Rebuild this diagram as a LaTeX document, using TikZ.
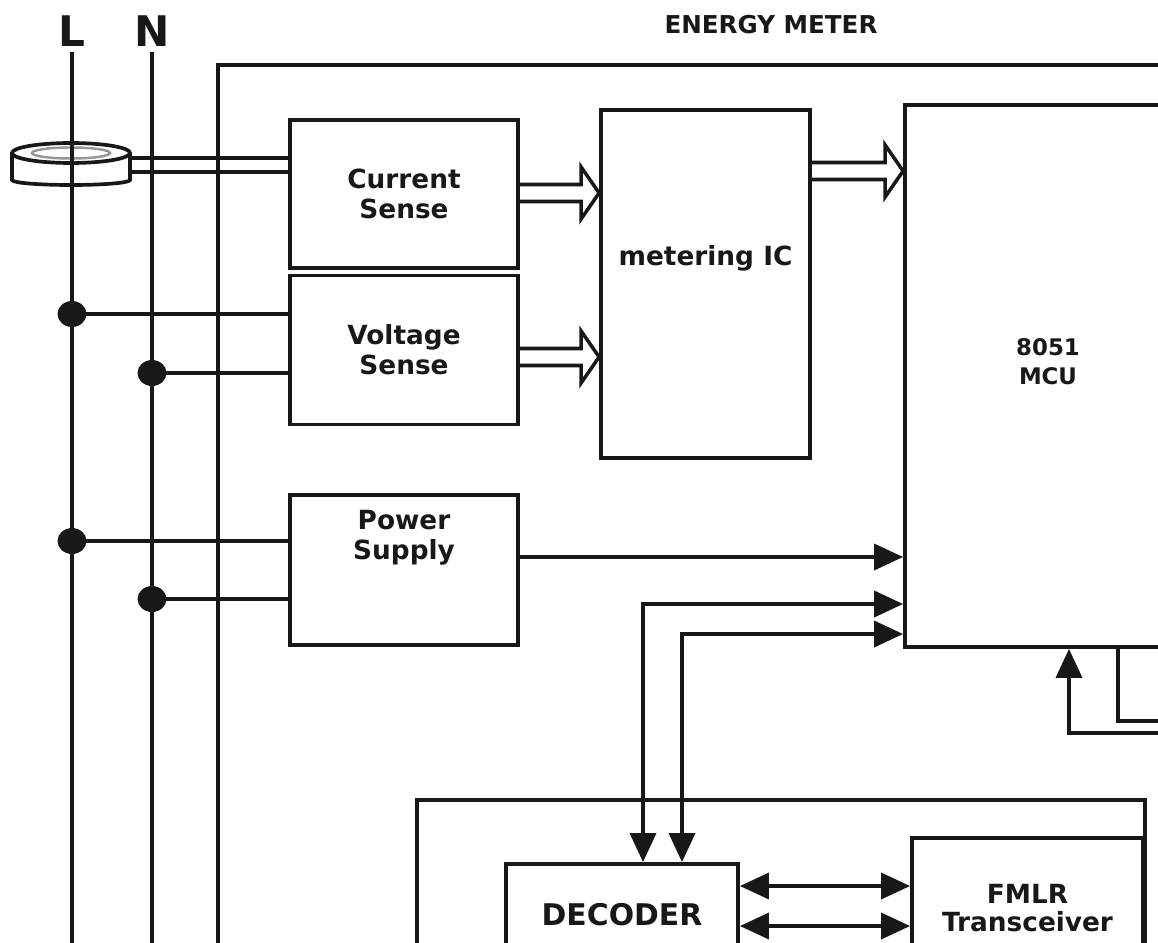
\documentclass[tikz,border=0pt]{standalone}
\usepackage{fontspec}
\setmainfont{DejaVu Sans}
\usepackage{tikz}
\usetikzlibrary{arrows.meta, positioning, calc}
\definecolor{mydark}{RGB}{24,24,24}
\newcommand{\blockfont}{\fontsize{15}{17}\selectfont\bfseries}
\newcommand{\mcufont}{\fontsize{13}{16.5}\selectfont\bfseries}
\tikzset{
  block/.style={rectangle, draw=mydark, line width=2.2pt, inner sep=0pt,
    align=center, font=\blockfont, text=mydark},
  blocklabel/.style={align=center, font=\blockfont, text=mydark},
  wire/.style={line width=2.1pt, color=mydark},
  tri/.style={-{Triangle[length=0.58cm, width=0.52cm]}},
  tritri/.style={{Triangle[length=0.58cm, width=0.52cm]}-{Triangle[length=0.58cm, width=0.52cm]}},
  hollow/.style={line width=2pt, color=mydark, line join=miter,
    to path={($(\tikztostart)+(0,0.17cm)$) -- ($(\tikztotarget)+(-0.36cm,0.17cm)$)
      -- ($(\tikztotarget)+(-0.36cm,0.52cm)$) -- (\tikztotarget)
      -- ($(\tikztotarget)+(-0.36cm,-0.52cm)$) -- ($(\tikztotarget)+(-0.36cm,-0.17cm)$)
      -- ($(\tikztostart)+(0,-0.17cm)$)}},
  joint/.style={fill=mydark}
}

\begin{document}
\begin{tikzpicture}[x=0.02cm, y=-0.02cm]
  \useasboundingbox (0,0) rectangle (1158,942);
  \clip (0,0) rectangle (1158,942);

  % Title and mains labels
  \node[font=\fontsize{14}{14}\selectfont\bfseries, text=mydark] (title) at (771,25) {ENERGY METER};
  \node[font=\fontsize{24}{24}\selectfont\bfseries, text=mydark, inner sep=1pt] (L) at (72,31) {L};
  \node[font=\fontsize{24}{24}\selectfont\bfseries, text=mydark, inner sep=1pt] (N) at (152,31) {N};

  % Blocks
  \node[block, minimum width=4.56cm, minimum height=2.96cm] (cs) at (404,194) {Current\\Sense};
  \node[block, minimum width=4.56cm, minimum height=2.98cm] (vs) at (404,350) {Voltage\\Sense};
  \node[block, minimum width=4.56cm, minimum height=3cm,
    label={[blocklabel, anchor=north, yshift=-0.22cm]north:Power\\Supply}] (ps) at (404,570) {};
  \node[block, minimum width=4.18cm, minimum height=6.96cm,
    label={[blocklabel, yshift=0.52cm]center:metering IC}] (ic) at (705.5,284) {};
  \node[block, minimum width=5.72cm, minimum height=10.84cm,
    label={[blocklabel, font=\mcufont, yshift=0.28cm]center:8051\\MCU}] (mcu) at (1048,376) {};
  \node[block, font=\fontsize{17}{19}\selectfont\bfseries, minimum width=4.64cm, minimum height=2.04cm] (dec) at (622,915) {DECODER};
  \node[block, font=\fontsize{15}{16}\selectfont\bfseries, minimum width=4.62cm, minimum height=2.8cm] (fmlr) at (1027.5,908) {FMLR\\Transceiver};

  % Meter enclosure and the radio board
  \draw[wire] (218,960) |- (1200,65);
  \draw[wire] (417,960) |- (1145,800) -- (1145,960);

  % Current transformer on L
  \draw[wire] (71,153) ellipse [x radius=1.18cm, y radius=0.2cm];
  \draw[line width=1.4pt, mydark!45] (71,153) ellipse [x radius=0.78cm, y radius=0.11cm];
  \draw[wire] (12,153) -- (12,180) arc [start angle=180, end angle=360, x radius=1.18cm, y radius=0.1cm] -- (130,153);
  \draw[wire] (130,158) -- (cs.west |- 0,158);
  \draw[wire] (130,172) -- (cs.west |- 0,172);

  % Mains lines
  \draw[wire] ([yshift=-0.08cm]L.south) -- (L.south |- 0,960);
  \draw[wire] ([yshift=-0.08cm]N.south) -- (N.south |- 0,960);

  % Taps from L and N
  \coordinate (jL1) at (72,314);
  \coordinate (jN1) at (152,373);
  \coordinate (jL2) at (72,541);
  \coordinate (jN2) at (152,599);
  \foreach \j/\b in {jL1/vs, jN1/vs, jL2/ps, jN2/ps}{
    \draw[wire] (\j) -- (\j -| \b.west);
    \fill[joint] (\j) ellipse [x radius=0.29cm, y radius=0.26cm];
  }

  % Data buses
  \draw[hollow] (cs.east |- 0,193) to (ic.west |- 0,193);
  \draw[hollow] (vs.east |- 0,357) to (ic.west |- 0,357);
  \draw[hollow] (ic.east |- 0,171) to (mcu.west |- 0,171);

  % Supply and control signals
  \draw[wire, tri] (ps.east |- 0,557) -- (mcu.west |- 0,557);
  \draw[wire, tritri] (dec.north -| 643,0) |- (mcu.west |- 0,604);
  \draw[wire, tritri] (dec.north -| 682,0) |- (mcu.west |- 0,634);
  \draw[wire, tri] (1200,733) -| (mcu.south -| 1069,0);
  \draw[wire] (mcu.south -| 1118,0) |- (1200,721);
  \draw[wire, tritri] (dec.east |- 0,886) -- (fmlr.west |- 0,886);
  \draw[wire, tritri] (dec.east |- 0,926) -- (fmlr.west |- 0,926);
\end{tikzpicture}
\end{document}
